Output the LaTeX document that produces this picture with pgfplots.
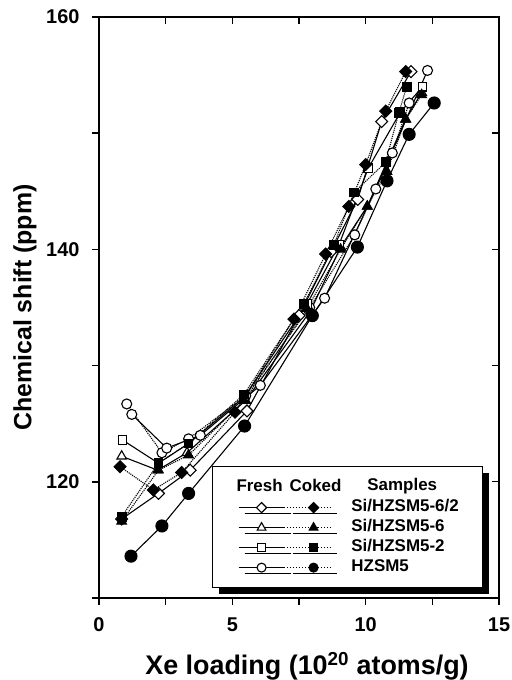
\documentclass[border=0pt]{standalone}
\usepackage{pgfplots}
\pgfplotsset{compat=1.18}
\usepackage{fontspec}
\setmainfont{Liberation Sans}
\usetikzlibrary{shadows}

\pgfplotsset{
  legpair/.style n args={3}{legend image code/.code={
    \draw[line width=1.1bp, solid] (0bp,0bp) -- (46bp,0bp);
    \draw[line width=1.1bp, dotted] (48bp,0bp) -- (92bp,0bp);
    \begin{scope}[shift={(23bp,0bp)}, line width=1.1bp, solid, fill=white, mark size=4.5bp, #3]
      \pgfuseplotmark{#1}
    \end{scope}
    \begin{scope}[shift={(75bp,0bp)}, line width=1.1bp, solid, fill=black, mark size=4.5bp, #3]
      \pgfuseplotmark{#2}
    \end{scope}
  }},
  fresh/.style={black, line width=1.1bp, mark size=5bp, mark options={solid, fill=white, line width=1.1bp}},
  coked/.style={black, line width=1.1bp, densely dotted, mark size=5bp, mark options={solid, fill=black}},
}

\begin{document}
\begin{tikzpicture}
\useasboundingbox (-99bp,-82bp) rectangle (413bp,598bp);
\begin{axis}[
  at={(0,0)}, anchor=south west,
  scale only axis, width=400bp, height=581bp,
  xmin=0, xmax=15, ymin=110, ymax=160,
  axis line style={line width=1.8bp},
  tick style={line width=1.4bp, black},
  major tick length=7bp,
  tick align=outside,
  xtick pos=left, ytick pos=left,
  xtick={0,2.5,...,15}, xticklabels={0,,5,,10,,15},
  ytick={110,120,...,160}, yticklabels={,120,,140,,160},
  /pgf/number format/assume math mode=true,
  ticklabel style={font=\bfseries\fontsize{20}{20}\selectfont},
  yticklabel shift=9bp,
  xticklabel shift=9bp,
  xlabel={Xe loading (10\textsuperscript{20} atoms/g)},
  ylabel={Chemical shift (ppm)},
  label style={font=\bfseries\fontsize{27}{27}\selectfont},
  xlabel style={at={(axis description cs:0.52,-0.1325)}, anchor=base},
  ylabel style={at={(axis description cs:-0.185,0.5)}, anchor=center, font=\bfseries\fontsize{25}{25}\selectfont},
  clip=false,
  legend style={at={(0.2825,0.017)}, anchor=south west,
    draw=black, line width=1bp, fill=white,
    drop shadow={shadow xshift=6bp, shadow yshift=-6bp, fill=black, opacity=1},
    font=\bfseries\fontsize{17}{17}\selectfont,
    inner xsep=24bp, inner ysep=12bp, row sep=4bp,
    nodes={inner sep=0bp, text height=12bp, text depth=4bp},
    /tikz/every odd column/.append style={column sep=10bp}},
  legend cell align=left,
]
% fresh HZSM5 extra (open circles, dotted)
\addplot[fresh, densely dotted, mark=*, forget plot] coordinates {
 (1.04,126.7) (2.36,122.5) (3.36,123.7) (5.5,127.4) (7.9,135.0) (9.59,141.25) (11.0,148.3) (11.63,152.6)};
% fresh Si/HZSM5-6/2
\addplot[fresh, mark=square*, mark size=4.2bp, mark options={solid, fill=white, line width=1.1bp, rotate=45}, forget plot] coordinates {
 (0.85,116.8) (2.23,119.0) (3.42,121.0) (5.55,126.1) (7.5,134.3) (8.7,139.8) (9.7,144.3) (10.6,151.0) (11.7,155.3)};
% fresh Si/HZSM5-6
\addplot[fresh, mark=triangle*, mark size=5.5bp, forget plot] coordinates {
 (0.85,122.2) (2.2,121.0) (3.3,122.5) (5.5,127.0) (7.93,134.7) (9.06,140.2) (10.06,143.7) (11.5,151.2) (12.1,153.5)};
% fresh Si/HZSM5-2
\addplot[fresh, mark=square*, mark size=4.3bp, forget plot] coordinates {
 (0.88,123.6) (2.23,121.6) (3.36,123.3) (5.45,127.3) (7.8,135.3) (9.0,140.4) (10.1,147.0) (11.3,151.8) (12.13,154.0)};
% fresh HZSM5
\addplot[fresh, mark=*, forget plot] coordinates {
 (1.23,125.8) (2.54,122.9) (3.8,124.0) (6.05,128.3) (8.46,135.8) (10.38,145.2) (12.32,155.4)};
% coked Si/HZSM5-6/2
\addplot[coked, mark=square*, mark size=4.2bp, mark options={solid, fill=black, rotate=45}, forget plot] coordinates {
 (0.79,121.3) (2.04,119.3) (3.1,120.8) (5.1,126.0) (7.31,134.0) (8.5,139.6) (9.37,143.7) (10.0,147.3) (10.75,151.9) (11.5,155.3)};
% coked Si/HZSM5-6
\addplot[coked, mark=triangle*, mark size=5.5bp, forget plot] coordinates {
 (0.85,116.6) (2.23,121.0) (3.36,122.3) (5.45,127.0) (7.8,134.9) (9.06,140.0) (10.06,143.7) (10.8,146.7) (11.5,151.2) (12.1,153.3)};
% coked Si/HZSM5-2
\addplot[coked, mark=square*, mark size=4.3bp, forget plot] coordinates {
 (0.85,117.0) (2.23,121.6) (3.36,123.3) (5.43,127.5) (7.68,135.3) (8.81,140.4) (9.56,144.9) (10.75,147.5) (11.24,151.75) (11.54,154.0)};
% coked HZSM5
\addplot[coked, solid, mark=*, mark size=6bp, forget plot] coordinates {
 (1.2,113.6) (2.36,116.2) (3.36,119.0) (5.46,124.8) (8.0,134.3) (9.69,140.2) (10.8,145.9) (11.63,149.9) (12.57,152.6)};

\addlegendimage{legend image code/.code={
  \node[anchor=base, font=\bfseries\fontsize{17}{17}\selectfont, inner sep=0pt] at (21bp,-5bp) {Fresh};
  \node[anchor=base, font=\bfseries\fontsize{17}{17}\selectfont, inner sep=0pt] at (77bp,-5bp) {Coked};}}
\addlegendentry{\hspace{16bp}Samples}
\addlegendimage{legpair={square*}{square*}{rotate=45,mark size=3.6bp}}
\addlegendentry{Si/HZSM5-6/2}
\addlegendimage{legpair={triangle*}{triangle*}{mark size=5bp}}
\addlegendentry{Si/HZSM5-6}
\addlegendimage{legpair={square*}{square*}{mark size=4bp}}
\addlegendentry{Si/HZSM5-2}
\addlegendimage{legpair={*}{*}{}}
\addlegendentry{HZSM5}
\end{axis}
\begin{axis}[
  at={(0,0)}, anchor=south west,
  scale only axis, width=400bp, height=581bp,
  xmin=0, xmax=15, ymin=110, ymax=160,
  axis line style={draw=none},
  tick style={line width=1.4bp, black},
  major tick length=7bp,
  tick align=inside,
  xtick pos=right, ytick pos=right,
  xtick={0,2.5,...,15}, ytick={110,120,...,160},
  xticklabels={}, yticklabels={},
]
\end{axis}
\end{tikzpicture}
\end{document}
